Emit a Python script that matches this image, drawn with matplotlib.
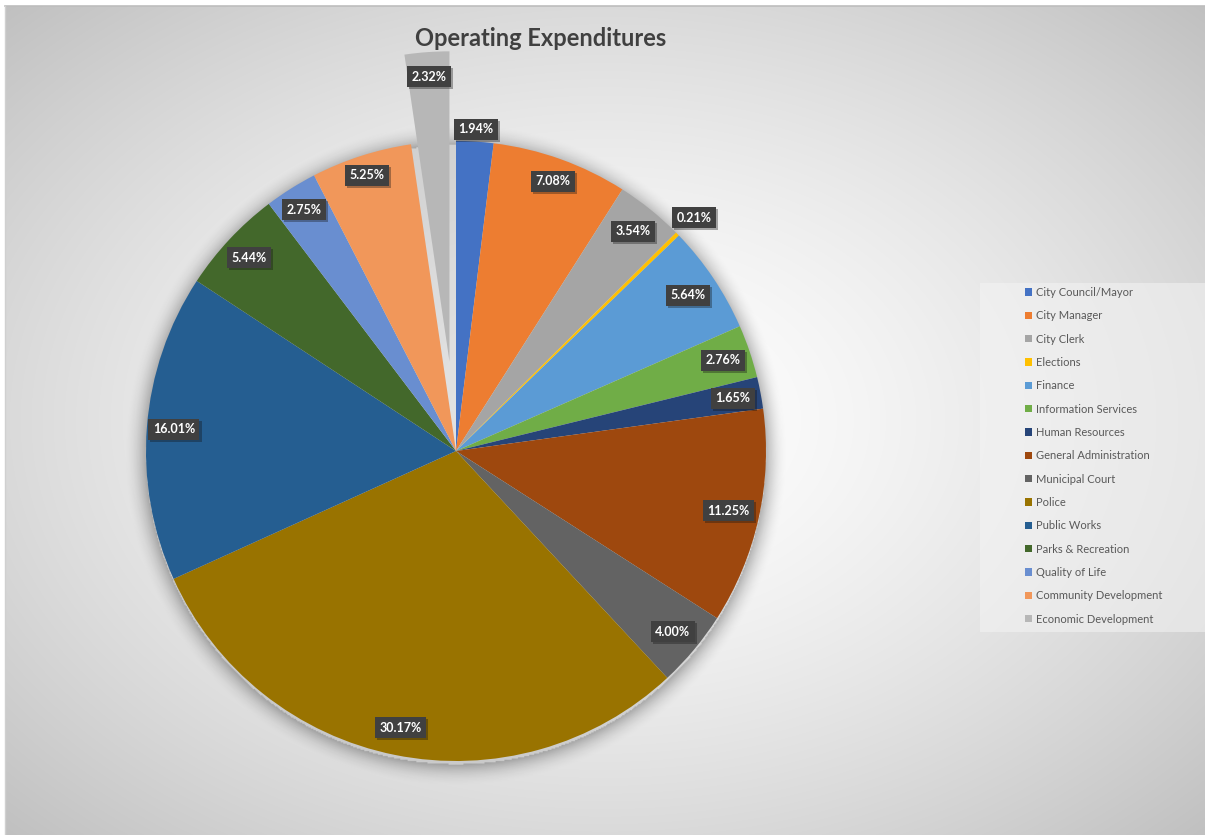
import numpy as np
import matplotlib
matplotlib.use("Agg")
import matplotlib.pyplot as plt
from matplotlib import patheffects as pe
from matplotlib.patches import Rectangle

plt.rcParams["font.family"] = ["Lato", "DejaVu Sans"]

# ---- data -------------------------------------------------------------
categories = [
    "City Council/Mayor", "City Manager", "City Clerk", "Elections", "Finance",
    "Information Services", "Human Resources", "General Administration",
    "Municipal Court", "Police", "Public Works", "Parks & Recreation",
    "Quality of Life", "Community Development", "Economic Development",
]
shares = [1.94, 7.08, 3.54, 0.21, 5.64, 2.76, 1.65, 11.25,
          4.00, 30.17, 16.01, 5.44, 2.75, 5.25, 2.32]
colors = ["#4472C4", "#ED7D31", "#A5A5A5", "#FFC000", "#5B9BD5",
          "#70AD47", "#264478", "#9E480E", "#636363", "#997300",
          "#255E91", "#43682B", "#698ED0", "#F1975A", "#B7B7B7"]
explode = [0, 0, 0, 0, 0, 0, 0, 0, 0, 0, 0, 0, 0, 0, 0.29]
# radial placement of each data label (fraction of the radius)
label_r = [1.04, 0.925, 0.91, 1.075, 0.90, 0.91, 0.91, 0.90,
           0.91, 0.91, 0.913, 0.913, 0.92, 0.935, 0.92]

W, H = 1205, 835
fig = plt.figure(figsize=(W / 100, H / 100), dpi=100)
fig.patch.set_facecolor("white")

# ---- chart-area background: radial grey gradient -----------------------
bg = fig.add_axes([0, 0, 1, 1], zorder=0)
bg.set_xlim(0, W)
bg.set_ylim(H, 0)
bg.axis("off")
x0, y0 = 5, 6
xs = np.arange(x0, W) + 0.5
ys = np.arange(y0, H) + 0.5
X, Y = np.meshgrid(xs, ys)
cx, cy = (x0 + W) / 2, (y0 + H) / 2
d = np.sqrt(((X - cx) / (W - cx)) ** 2 + ((Y - cy) / (H - cy)) ** 2) / np.sqrt(2)
val = (255 - 63 * np.clip(d, 0, 1) ** 1.5) / 255.0
img = np.dstack([val, val, val])
bg.imshow(img, extent=(x0, W, H, y0), origin="upper", interpolation="bilinear",
          aspect="auto")
bg.plot([x0, W], [y0, y0], color="#bdbdbd", lw=1.2)
bg.plot([x0, x0], [y0, H], color="#d0d0d0", lw=1.0)
# legend panel
bg.add_patch(Rectangle((980, 283), W - 980, 632 - 283, facecolor="#f4f4f4",
                       edgecolor="none", alpha=0.55))
bg.set_xlim(0, W)
bg.set_ylim(H, 0)

# ---- pie -------------------------------------------------------------
R_PX = 310.0
CX, CY = 456.0, 451.0
S = 440.0
ax = fig.add_axes([(CX - S) / W, (H - CY - S) / H, 2 * S / W, 2 * S / H], zorder=1)
ax.axis("off")

# soft drop shadow around the pie
g = np.linspace(-1.2, 1.2, 600)
GX, GY = np.meshgrid(g, g)
rr = np.sqrt(GX ** 2 + (GY + 0.012) ** 2)
alpha = np.where(rr <= 1.0, 0.10,
                 0.28 * np.clip(1 - (rr - 1.0) / 0.075, 0, 1) ** 2)
shadow = np.zeros((600, 600, 4))
shadow[..., 3] = alpha
ax.imshow(shadow, extent=(-1.2, 1.2, -1.2, 1.2), origin="lower", zorder=0,
          interpolation="bilinear")

wedges, _ = ax.pie(shares, colors=colors, startangle=90, counterclock=False,
                   explode=explode, radius=1.0,
                   wedgeprops=dict(linewidth=0, antialiased=True))
for w in wedges:
    w.set_zorder(2)

lim = S / R_PX
ax.set_xlim(-lim, lim)
ax.set_ylim(-lim, lim)
ax.set_aspect("auto")

for w, v, r in zip(wedges, shares, label_r):
    th = np.deg2rad((w.theta1 + w.theta2) / 2)
    wx, wy = w.center
    t = ax.text(wx + r * np.cos(th), wy + r * np.sin(th), f"{v:.2f}%",
                ha="center", va="center", color="white", fontsize=9,
                fontweight="bold", zorder=5,
                bbox=dict(boxstyle="square,pad=0.36", facecolor="#404040",
                          edgecolor="none"))
    t.get_bbox_patch().set_path_effects(
        [pe.SimplePatchShadow(offset=(1.5, -1.5), alpha=0.35), pe.Normal()])

# ---- title -----------------------------------------------------------
fig.text(541 / W, 1 - 38.5 / H, "Operating Expenditures", ha="center",
         va="center", fontsize=17, fontweight="bold", color="#404040")

# ---- legend ----------------------------------------------------------
leg = fig.legend(wedges, categories, loc="upper left",
                 bbox_to_anchor=(1025 / W, 1 - 287 / H), frameon=False,
                 fontsize=8, labelcolor="#595959", handlelength=0.65,
                 handleheight=0.65, handletextpad=0.35, labelspacing=1.11,
                 borderpad=0, borderaxespad=0)

fig.savefig("out.png", dpi=100)
